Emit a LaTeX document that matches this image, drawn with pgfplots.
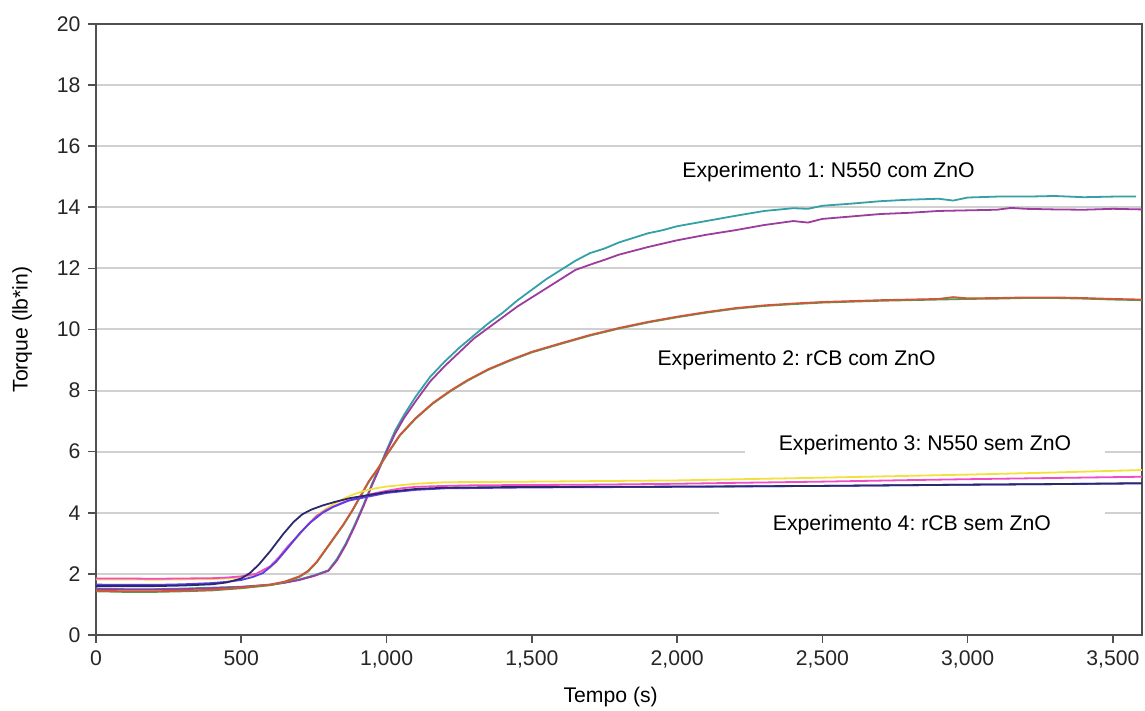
\documentclass[border=0pt]{standalone}
\usepackage{pgfplots}
\pgfplotsset{compat=1.18}
\usepackage{fontspec}
\setmainfont{Liberation Sans}
\definecolor{cteal}{HTML}{35A0A6}
\definecolor{cpurple}{HTML}{9C3C9C}
\definecolor{cgreen}{HTML}{4CA04C}
\definecolor{corange}{HTML}{D2553A}
\definecolor{cyellow}{HTML}{F2E03C}
\definecolor{cpink}{HTML}{F04CC8}
\definecolor{cviolet}{HTML}{5A3CF0}
\definecolor{cnavy}{HTML}{2A2A6A}
\definecolor{gridgray}{HTML}{D0D0D0}
\definecolor{framegray}{HTML}{505050}
\begin{document}
\frenchspacing
\fontsize{10.6}{12.7}\selectfont
\begin{tikzpicture}
\begin{axis}[
  at={(0,0)}, anchor=south west,
  scale only axis, width=523pt, height=305.5pt,
  xmin=0, xmax=3600, ymin=0, ymax=20,
  xtick={0,500,1000,1500,2000,2500,3000,3500},
  ytick={0,2,4,6,8,10,12,14,16,18,20},
  tick align=outside, major tick length=4pt,
  xtick pos=left, ytick pos=left,
  ymajorgrids, grid style={color=gridgray, line width=1pt},
  axis line style={color=framegray, line width=1pt},
  tick style={color=framegray, line width=0.8pt},
  scaled ticks=false,
  /pgf/number format/1000 sep={,},
  /pgf/number format/assume math mode=true,
  tick label style={font=\fontsize{10.6}{12}\selectfont, color=black!85},
  xlabel={Tempo (s)}, ylabel={Torque (lb*in)},
  every axis x label/.style={at={(axis description cs:0.492,-0.1015)}, anchor=center},
  every axis y label/.style={at={(axis description cs:-0.0707,0.5)}, rotate=90, anchor=center},
  label style={font=\fontsize{10.6}{12}\selectfont},
  clip=true,
]
\node at (axis cs:2521,15.16) {Experimento 1: N550 com ZnO};
\node at (axis cs:2411,9.0) {Experimento 2: rCB com ZnO};
\node[fill=white, inner xsep=17pt, inner ysep=2pt] at (axis cs:2853,6.22) {Experimento 3: N550 sem ZnO};
\node[fill=white, inner xsep=27pt, inner ysep=2.5pt] at (axis cs:2808,3.60) {Experimento 4: rCB sem ZnO};

% Experimento 1 (teal)
\addplot[cteal, line width=0.9pt] coordinates {
(0,1.52) (100,1.5) (200,1.5) (300,1.52) (400,1.55) (500,1.58) (600,1.65) (650,1.72)
(700,1.82) (750,1.95) (800,2.12) (830,2.5) (860,3.0) (890,3.6) (920,4.25) (950,4.95)
(980,5.6) (1000,6.05) (1030,6.7) (1060,7.2) (1100,7.8) (1150,8.45) (1200,8.95) (1250,9.4)
(1300,9.8) (1350,10.2) (1400,10.55) (1450,10.95) (1500,11.3) (1550,11.65) (1600,11.95)
(1650,12.25) (1700,12.5) (1750,12.65) (1800,12.85) (1850,13.0) (1900,13.15) (1950,13.25)
(2000,13.38) (2100,13.55) (2200,13.72) (2300,13.88) (2400,13.97) (2450,13.95) (2500,14.05)
(2600,14.12) (2700,14.2) (2800,14.25) (2900,14.28) (2950,14.22) (3000,14.32) (3100,14.35)
(3200,14.35) (3300,14.37) (3400,14.33) (3500,14.35) (3580,14.35)
};
% Experimento 1 (purple)
\addplot[cpurple, line width=0.9pt] coordinates {
(0,1.5) (100,1.49) (200,1.49) (300,1.5) (400,1.53) (500,1.57) (600,1.64) (650,1.71)
(700,1.8) (750,1.93) (800,2.1) (830,2.45) (860,2.95) (890,3.55) (920,4.2) (950,4.9)
(980,5.55) (1000,6.0) (1030,6.6) (1060,7.1) (1100,7.65) (1150,8.3) (1200,8.8) (1250,9.25)
(1300,9.7) (1350,10.05) (1400,10.4) (1450,10.75) (1500,11.05) (1550,11.35) (1600,11.65)
(1650,11.95) (1700,12.12) (1750,12.28) (1800,12.45) (1900,12.7) (2000,12.92) (2100,13.1)
(2200,13.25) (2300,13.42) (2400,13.55) (2450,13.5) (2500,13.62) (2600,13.7) (2700,13.78)
(2800,13.82) (2900,13.88) (3000,13.9) (3100,13.92) (3150,13.98) (3200,13.95) (3300,13.93)
(3400,13.92) (3500,13.95) (3600,13.93)
};
% Experimento 2 (green)
\addplot[cgreen, line width=0.9pt] coordinates {
(0,1.43) (100,1.41) (200,1.41) (300,1.43) (400,1.46) (500,1.53) (600,1.63) (650,1.73)
(700,1.9) (730,2.08) (760,2.38) (790,2.78) (820,3.18) (850,3.58) (880,4.03) (910,4.53)
(940,5.03) (970,5.43) (1000,5.88) (1046,6.53) (1100,7.08) (1160,7.58) (1220,7.98)
(1280,8.33) (1350,8.68) (1425,8.98) (1500,9.25) (1600,9.53) (1700,9.8) (1800,10.03)
(1900,10.23) (2000,10.4) (2100,10.55) (2200,10.68) (2300,10.77) (2400,10.83) (2500,10.88)
(2600,10.91) (2700,10.94) (2800,10.96) (2900,10.98) (3000,11.0) (3100,11.01) (3200,11.03)
(3300,11.03) (3400,11.01) (3500,10.98) (3600,10.96)
};
% Experimento 2 (orange)
\addplot[corange, line width=0.9pt] coordinates {
(0,1.45) (100,1.43) (200,1.43) (300,1.45) (400,1.48) (500,1.55) (600,1.65) (650,1.75)
(700,1.92) (730,2.1) (760,2.4) (790,2.8) (820,3.2) (850,3.6) (880,4.05) (910,4.55)
(940,5.05) (970,5.45) (1000,5.9) (1046,6.55) (1100,7.1) (1160,7.6) (1220,8.0)
(1280,8.35) (1350,8.7) (1425,9.0) (1500,9.27) (1600,9.55) (1700,9.82) (1800,10.05)
(1900,10.25) (2000,10.42) (2100,10.57) (2200,10.7) (2300,10.79) (2400,10.85) (2500,10.9)
(2600,10.93) (2700,10.96) (2800,10.98) (2900,11.0) (2950,11.06) (3000,11.02) (3100,11.03)
(3200,11.05) (3300,11.05) (3400,11.03) (3500,11.0) (3600,10.98)
};
% Experimento 3 (yellow)
\addplot[cyellow, line width=0.9pt] coordinates {
(0,1.82) (100,1.82) (200,1.81) (300,1.82) (400,1.83) (450,1.85) (500,1.89) (550,1.97)
(600,2.2) (630,2.5) (660,2.85) (700,3.28) (730,3.62) (760,3.92) (790,4.12) (820,4.3)
(850,4.45) (880,4.58) (910,4.68) (950,4.78) (1000,4.86) (1100,4.95) (1200,5.0)
(1500,5.02) (2000,5.06) (2500,5.15) (3000,5.25) (3300,5.32) (3600,5.4)
};
% Experimento 3 (pink)
\addplot[cpink, line width=0.9pt] coordinates {
(0,1.85) (100,1.85) (200,1.84) (300,1.85) (400,1.86) (450,1.88) (500,1.92) (550,2.0)
(600,2.25) (630,2.55) (660,2.9) (700,3.3) (730,3.62) (760,3.9) (790,4.08) (820,4.22)
(850,4.34) (880,4.44) (910,4.52) (950,4.62) (1000,4.72) (1050,4.8) (1100,4.85)
(1200,4.88) (1300,4.9) (1500,4.91) (1700,4.92) (2000,4.95) (2200,4.98) (2500,5.02)
(2800,5.07) (3000,5.1) (3300,5.14) (3600,5.18)
};
% Experimento 4 (violet)
\addplot[cviolet, line width=0.9pt] coordinates {
(0,1.65) (100,1.64) (200,1.64) (300,1.66) (400,1.7) (450,1.74) (500,1.8) (540,1.9)
(575,2.03) (620,2.4) (660,2.85) (702,3.34) (740,3.7) (780,4.0) (816,4.19) (870,4.4)
(932,4.52) (1000,4.65) (1100,4.75) (1200,4.8) (1500,4.83) (2000,4.85) (2500,4.88)
(3000,4.92) (3600,4.96)
};
% Experimento 4 (navy)
\addplot[cnavy, line width=0.9pt] coordinates {
(0,1.6) (100,1.6) (200,1.6) (300,1.62) (400,1.66) (450,1.72) (500,1.85) (530,2.03)
(560,2.3) (600,2.75) (644,3.3) (680,3.7) (710,3.95) (740,4.1) (780,4.24) (820,4.35)
(874,4.48) (950,4.6) (1000,4.68) (1100,4.78) (1200,4.82) (1400,4.84) (1700,4.85)
(2079,4.86) (2500,4.88) (3000,4.92) (3300,4.94) (3600,4.97)
};
\end{axis}
\pgfresetboundingbox
\path[use as bounding box] (-48pt,-38pt) rectangle (524.5pt,317.5pt);
\end{tikzpicture}
\end{document}
